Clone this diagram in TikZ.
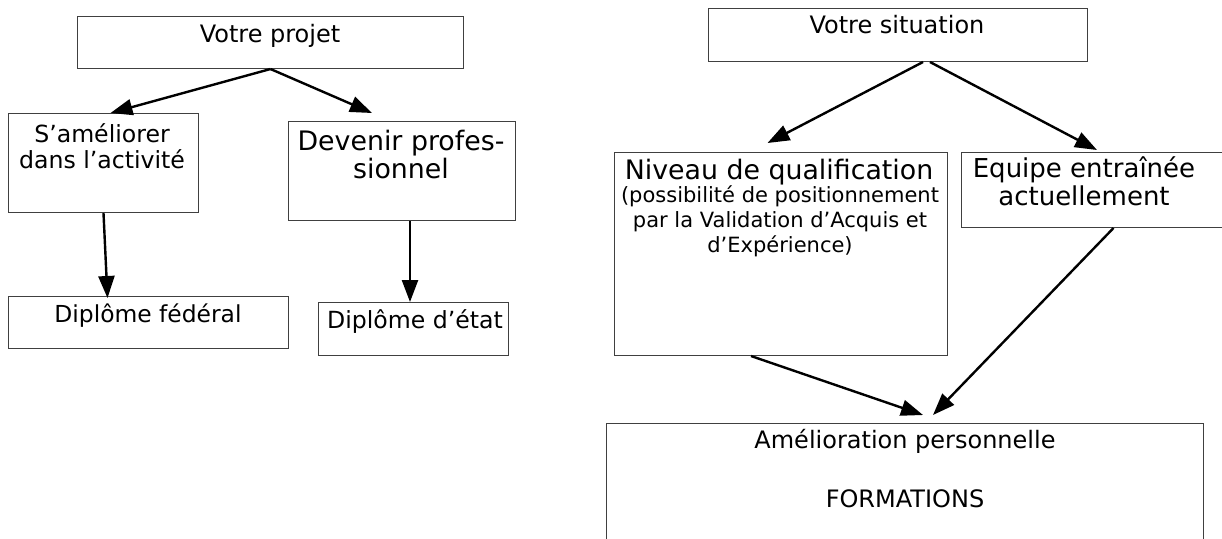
\documentclass[tikz,border=0pt]{standalone}
\usepackage{fontspec}
\setmainfont{DejaVu Sans}
\usetikzlibrary{arrows.meta}

\begin{document}
\begin{tikzpicture}[x=0.5pt,y=-0.5pt,
    box/.style={draw=black!75,line width=0.5pt,rectangle,inner sep=0pt,anchor=north west},
    txt/.style={inner sep=0pt,anchor=base,align=center},
    fleche/.style={-{Triangle[length=11pt,width=8pt]},line width=1.2pt}]
            \useasboundingbox (0,0) rectangle (1222,538);

            % partie gauche
            \node[box,minimum width=193pt,minimum height=26pt] (projet) at (77,16) {};
            \node[box,minimum width=95pt,minimum height=49.5pt] (ameliorer) at (8,113) {};
            \node[box,minimum width=113.5pt,minimum height=49.5pt] (devenir) at (288,121) {};
            \node[box,minimum width=140pt,minimum height=26pt] (federal) at (8,296) {};
            \node[box,minimum width=95pt,minimum height=26.5pt] (etat) at (318,302) {};

            % (base = derniere ligne)
            \node[txt,font=\fontsize{12}{13}\selectfont] (projettxt) at (270,42) {Votre projet};
            \node[txt,font=\fontsize{11.8}{13}\selectfont] (amelioretxt) at (102,168) {S’améliorer\\dans l’activité};
            \node[txt,font=\fontsize{13.4}{14}\selectfont] (devenirtxt) at (401,178) {Devenir profes-\\sionnel};
            \node[txt,font=\fontsize{11.7}{13}\selectfont] (federaltxt) at (148,322) {Diplôme fédéral};
            \node[txt,font=\fontsize{11.8}{13}\selectfont] (etattxt) at (415,328) {Diplôme d’état};

            \path [fleche] (projet.south) edge ([xshift=3.5pt]ameliorer.north);
            \path [fleche] (projet.south) edge ([xshift=-15pt,yshift=4pt]devenir.north);
            \path [fleche] (ameliorer.south) edge ([xshift=2pt,yshift=-1pt]ameliorer.south |- federal.north);
            \path [fleche] ([xshift=4pt]devenir.south) edge ([xshift=4pt]devenir.south |- etat.north);

            % partie droite
            \node[box,minimum width=189.5pt,minimum height=26.5pt] (situation) at (708,8) {};
            \node[box,minimum width=166.5pt,minimum height=101.5pt] (niveau) at (614,152) {};
            \node[box,minimum width=132pt,minimum height=37.5pt] (equipe) at (961,152) {};
            \node[box,minimum width=298.5pt,minimum height=65pt] (amelio) at (606,423) {};

            \node[txt,font=\fontsize{13.4}{15}\selectfont] (niveautxt) at (779,179) {Niveau de qualification};
            \node[txt,font=\fontsize{12}{13}\selectfont] (situationtxt) at (897,33) {Votre situation};
            \node[txt,font=\fontsize{10.5}{12.5}\selectfont] (vaetxt) at (780,252) {(possibilité de positionnement\\par la Validation d’Acquis et\\d’Expérience)};
            \node[txt,font=\fontsize{13}{14}\selectfont] (equipetxt) at (1084,205) {Equipe entraînée\\actuellement};
            \node[txt,font=\fontsize{12}{14.5}\selectfont] (ameliotxt) at (905,507) {Amélioration personnelle\\[15pt]FORMATIONS};

            \path [fleche] ([xshift=12.5pt]situation.south) edge ([xshift=-6.75pt,yshift=4.5pt]niveau.north);
            \path [fleche] ([xshift=16pt]situation.south) edge ([xshift=1.75pt,yshift=1pt]equipe.north);
            \path [fleche] ([xshift=-15pt]niveau.south) edge ([xshift=9pt,yshift=4pt]amelio.north);
            \path [fleche] ([xshift=10pt]equipe.south) edge ([xshift=14pt,yshift=4pt]amelio.north);
        \end{tikzpicture}
\end{document}
